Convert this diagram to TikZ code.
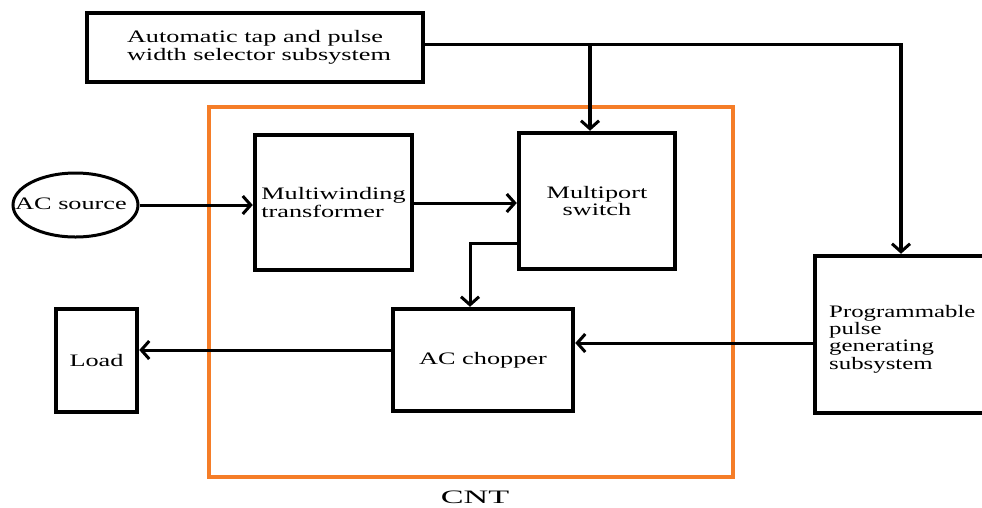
\documentclass[tikz,border=0pt]{standalone}
\usepackage{fontspec}
\setmainfont[FakeStretch=1.5]{Liberation Serif}
\newfontfamily\progfont[FakeStretch=1.42]{Liberation Serif}
\newfontfamily\cntfont[FakeStretch=1.8]{Liberation Serif}
\usetikzlibrary{arrows.meta,shapes.geometric}
\definecolor{cntorange}{RGB}{245,125,40}
\tikzset{
  blk/.style={draw=black, line width=4.5pt, fill=white, inner sep=0pt,
    font=\fontsize{17.5}{17.5}\selectfont},
  txt/.style={inner sep=0pt, font=\fontsize{17.5}{17.5}\selectfont},
  conn/.style={draw=black, line width=3pt,
    -{Straight Barb[length=8pt,width=18pt,line width=3pt]}},
  connbold/.style={conn, line width=4.5pt},
  plain/.style={draw=black, line width=3pt},
}
\begin{document}
\begin{tikzpicture}[x=1pt,y=-1pt]
\useasboundingbox (0,0) rectangle (982,507);
\clip (0,0) rectangle (982,507);
\fill[white] (0,0) rectangle (982,507);
% CNT frame
\node[draw=cntorange, line width=4pt, minimum width=524pt, minimum height=370pt, inner sep=0pt] (cnt) at (471,292) {};
\node[inner sep=0pt, anchor=base, font=\cntfont\fontsize{19}{19}\selectfont] (cntlabel) at (475,503) {CNT};
% blocks
\node[blk, minimum width=336pt, minimum height=69pt, align=left] (top) at (255,47.5)
  {\hspace*{8pt}Automatic tap and pulse\\\hspace*{8pt}width selector subsystem};
\node[draw=black, line width=3pt, fill=white, ellipse, inner sep=0pt, minimum width=125pt, minimum height=64pt] (src) at (75.5,205) {};
\node[txt] (srctext) at (71,204) {AC source};
\node[blk, minimum width=157pt, minimum height=135pt, align=left] (mw) at (333.5,202.5)
  {Multiwinding\\transformer};
\node[blk, minimum width=156pt, minimum height=136pt, align=center] (mp) at (597,201)
  {Multiport\\switch};
\node[blk, minimum width=180pt, minimum height=102pt] (ch) at (483,360) {AC chopper};
\node[blk, minimum width=81pt, minimum height=103pt] (load) at (96.5,360.5) {Load};
\node[blk, minimum width=185pt, minimum height=157pt] (prog) at (907.5,334.5) {};
\node[txt, anchor=west, align=left, font=\progfont\fontsize{17.5}{17.4}\selectfont] (progtext) at (829,339)
  {Programmable\\pulse\\generating\\subsystem};
% connectors
\draw[conn] (src.east) -- (src.east -| mw.west);
\draw[conn] ([yshift=-0.5pt]mw.east) -- ([yshift=-0.5pt]mw.east -| mp.west);
\draw[conn] ([yshift=-42pt]mp.west) -| ([xshift=-13pt]ch.north);
\draw[conn] ([yshift=10pt]ch.west) -- ([yshift=10pt]ch.west -| load.east);
\draw[conn] ([yshift=-8.5pt]prog.west) -- ([yshift=-8.5pt]prog.west -| ch.east);
\coordinate (corner) at (901,44);
\coordinate (branch) at (590,44);
\draw[plain] ([yshift=3.5pt]top.east) -- ([xshift=2pt]corner);
\draw[connbold] (corner) -- (corner |- prog.north);
\draw[connbold] (branch) -- (branch |- mp.north);
\end{tikzpicture}
\end{document}
